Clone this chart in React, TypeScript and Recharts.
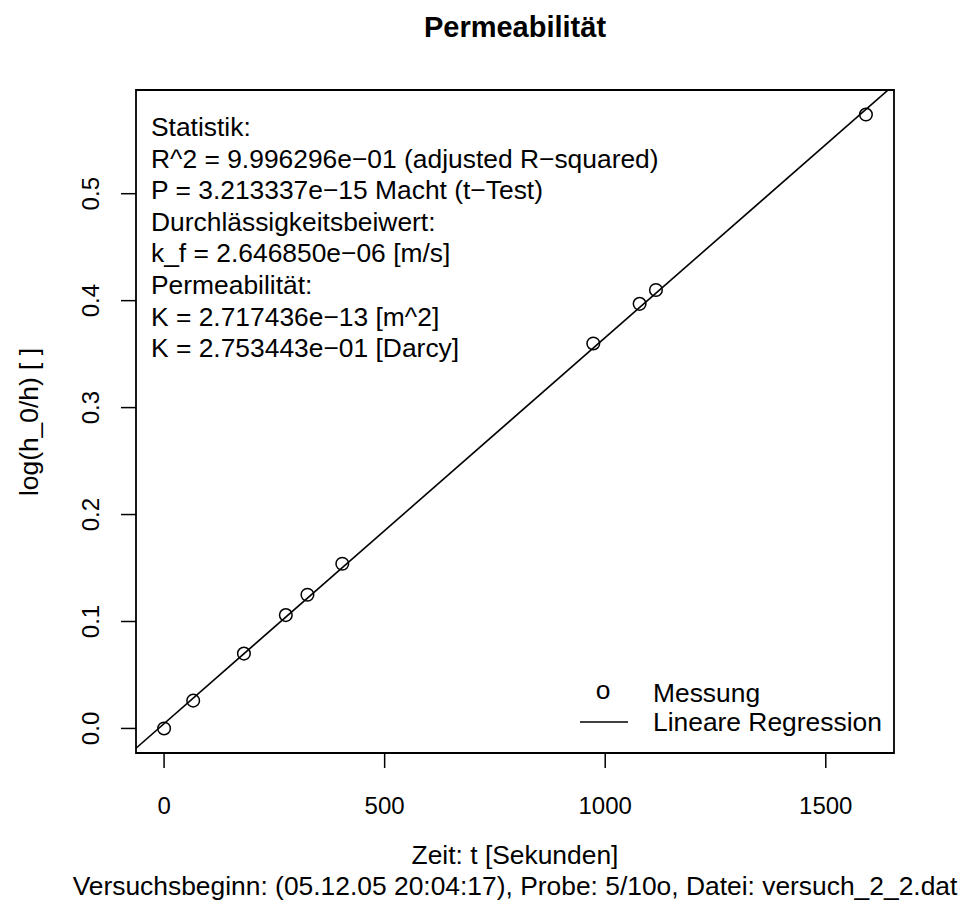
import React from "react";
import {
  ComposedChart,
  Scatter,
  Line,
  XAxis,
  YAxis,
  ReferenceArea,
} from "recharts";

const times = [0, 66, 181, 276, 325, 404, 973, 1078, 1115, 1591];
const logRatio = [0, 0.026, 0.07, 0.106, 0.125, 0.154, 0.36, 0.397, 0.41, 0.574];

const xTicks = [0, 500, 1000, 1500];
const yTicks = [0, 0.1, 0.2, 0.3, 0.4, 0.5];

// fitted line coefficients
const regSlope = 3.61e-4;
const regIntercept = 0.0045;

const statLines = [
  "Statistik:",
  "R^2 = 9.996296e\u221201 (adjusted R\u2212squared)",
  "P = 3.213337e\u221215 Macht (t\u2212Test)",
  "Durchlässigkeitsbeiwert:",
  "k_f = 2.646850e\u221206 [m/s]",
  "Permeabilität:",
  "K = 2.717436e\u221213 [m^2]",
  "K = 2.753443e\u221201 [Darcy]",
];

const legendLabels = ["Messung", "Lineare Regression"];

const W = 972;
const H = 914;
const FONT = '"Liberation Sans", Arial, Helvetica, sans-serif';

// R pads the data range by 4% on each side
const pad = (lo: number, hi: number): [number, number] => {
  const d = (hi - lo) * 0.04;
  return [lo - d, hi + d];
};
const xDomain = pad(Math.min(...times), Math.max(...times));
const yDomain = pad(Math.min(...logRatio), Math.max(...logRatio));

const points = times.map((t, i) => ({ t, v: logRatio[i] }));
const regData = xDomain.map((t) => ({ t, v: regIntercept + regSlope * t }));

const fmtY = (v: number) => v.toFixed(1);

const XTick = ({ x, y, payload }: any) => (
  <text x={x} y={y + 44} textAnchor="middle" fontSize={24} fill="#000" fontFamily={FONT}>
    {payload.value}
  </text>
);

const YTick = ({ x, y, payload }: any) => {
  const tx = x - 20;
  return (
    <text
      x={tx}
      y={y}
      transform={`rotate(-90, ${tx}, ${y})`}
      textAnchor="middle"
      fontSize={24}
      fill="#000"
      fontFamily={FONT}
    >
      {fmtY(payload.value)}
    </text>
  );
};

const Circle = ({ cx, cy }: any) => (
  <circle cx={cx} cy={cy} r={6.3} fill="none" stroke="#000" strokeWidth={1.5} />
);

export default function App() {
  return (
    <div style={{ position: "absolute", left: 0, top: 0, width: W, height: H, background: "#fff" }}>
      <ComposedChart
        width={W}
        height={H}
        margin={{ top: 90, right: 78, bottom: 101, left: 76 }}
      >
        <XAxis
          type="number"
          dataKey="t"
          domain={xDomain}
          ticks={xTicks}
          allowDataOverflow
          axisLine={false}
          tickSize={15}
          tickLine={{ stroke: "#000", strokeWidth: 1.5 }}
          tick={<XTick />}
          height={60}
        />
        <YAxis
          type="number"
          dataKey="v"
          domain={yDomain}
          ticks={yTicks}
          allowDataOverflow
          axisLine={false}
          tickSize={15}
          tickLine={{ stroke: "#000", strokeWidth: 1.5 }}
          tick={<YTick />}
          width={60}
        />
        <ReferenceArea
          x1={xDomain[0]}
          x2={xDomain[1]}
          y1={yDomain[0]}
          y2={yDomain[1]}
          fill="none"
          stroke="#000"
          strokeWidth={1.8}
        />
        <Line
          data={regData}
          dataKey="v"
          stroke="#000"
          strokeWidth={1.6}
          dot={false}
          activeDot={false}
          isAnimationActive={false}
        />
        <Scatter data={points} dataKey="v" shape={<Circle />} isAnimationActive={false} />
      </ComposedChart>

      <svg
        width={W}
        height={H}
        style={{ position: "absolute", left: 0, top: 0, pointerEvents: "none" }}
        fontFamily={FONT}
      >
        <text x={515} y={37} textAnchor="middle" fontSize={29} fontWeight="bold" fill="#000">
          Permeabilität
        </text>

        {statLines.map((s, i) => (
          <text key={i} x={151} y={136 + i * 31.6} fontSize={26.4} fill="#000">
            {s}
          </text>
        ))}

        <text x={603} y={699} textAnchor="middle" fontSize={26.4} fill="#000">
          o
        </text>
        <text x={653} y={702} fontSize={26.4} fill="#000">
          {legendLabels[0]}
        </text>
        <line x1={580} x2={628} y1={722} y2={722} stroke="#000" strokeWidth={1.6} />
        <text x={653} y={731} fontSize={26.4} fill="#000">
          {legendLabels[1]}
        </text>

        <text
          x={38}
          y={422}
          transform="rotate(-90, 38, 422)"
          textAnchor="middle"
          fontSize={26.4}
          fill="#000"
        >
          log(h_0/h) [ ]
        </text>

        <text x={515} y={864} textAnchor="middle" fontSize={26.4} fill="#000">
          Zeit: t [Sekunden]
        </text>
        <text x={515} y={895} textAnchor="middle" fontSize={26.4} fill="#000">
          Versuchsbeginn: (05.12.05 20:04:17), Probe: 5/10o, Datei: versuch_2_2.dat
        </text>
      </svg>
    </div>
  );
}
